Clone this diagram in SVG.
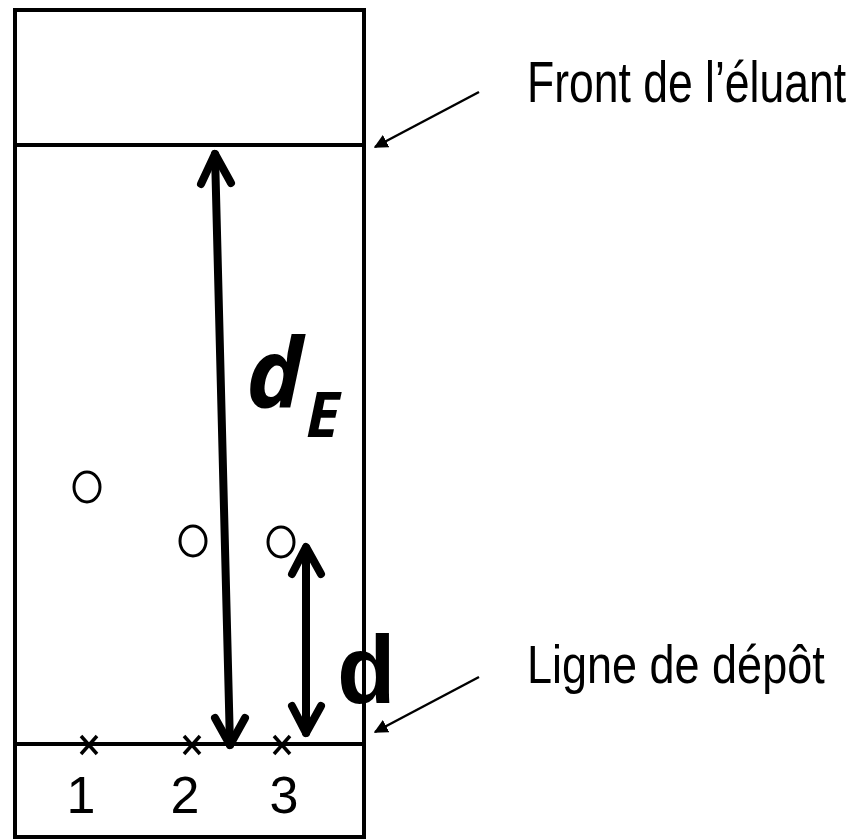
<svg xmlns="http://www.w3.org/2000/svg" width="856" height="840" viewBox="0 0 856 840">
<defs>
<style>
.frame{fill:none;stroke:#000;stroke-width:4}
.line{stroke:#000;stroke-width:4}
.spot{fill:none;stroke:#000;stroke-width:3}
.cross{stroke:#000;stroke-width:3.5}
.dim{fill:none;stroke:#000;stroke-width:8;stroke-linecap:round;stroke-linejoin:round}
.lead{stroke:#000;stroke-width:2.5}
.lbl{font-family:"Liberation Sans",Arial,sans-serif;fill:#000}
.num{font-family:"Liberation Sans",Arial,sans-serif;font-size:52px;fill:#000;text-anchor:middle}
.sym{font-family:"Open Sans","DejaVu Sans",sans-serif;font-weight:bold;font-style:italic;fill:#000}
</style>
<marker id="ah" viewBox="0 0 10 10" refX="9" refY="5" markerWidth="14" markerHeight="14" markerUnits="userSpaceOnUse" orient="auto">
<path d="M0,0 L10,5 L0,10 z" fill="#000"/>
</marker>
</defs>
<rect width="856" height="840" fill="#fff"/>
<g id="plate">
<rect class="frame" x="15" y="10" width="349" height="827"/>
<line id="front-line" class="line" x1="15" y1="145" x2="364" y2="145"/>
<line id="deposit-line" class="line" x1="15" y1="744" x2="364" y2="744"/>
</g>
<g id="spots">
<ellipse class="spot" cx="87" cy="487" rx="13" ry="15"/>
<ellipse class="spot" cx="193" cy="541" rx="13" ry="15"/>
<ellipse class="spot" cx="281" cy="542" rx="13" ry="15"/>
</g>
<g id="crosses">
<path class="cross" d="M81,736 L97,754 M97,736 L81,754"/>
<path class="cross" d="M184,736 L200,754 M200,736 L184,754"/>
<path class="cross" d="M274,736 L290,754 M290,736 L274,754"/>
</g>
<g id="numbers">
<text class="num" x="81" y="813">1</text>
<text class="num" x="185" y="813">2</text>
<text class="num" x="284" y="813">3</text>
</g>
<g id="connectors">
<line class="dim" x1="215" y1="154" x2="230" y2="745"/>
<path class="dim" d="M201,184 L215,154 L231,183"/>
<path class="dim" d="M215,718 L230,745 L245,718"/>
<line class="dim" x1="306" y1="548" x2="306" y2="733"/>
<path class="dim" d="M292,574 L306,547 L321,574"/>
<path class="dim" d="M292,706 L306,733 L321,706"/>
<line class="lead" x1="479" y1="92" x2="375" y2="147" marker-end="url(#ah)"/>
<line class="lead" x1="479" y1="677" x2="375" y2="732" marker-end="url(#ah)"/>
</g>
<g id="label-dE">
<text class="sym" x="246" y="408" font-size="96">d</text>
<text class="sym" x="306" y="437" font-size="62">E</text>
</g>
<g id="label-d">
<text class="lbl" x="337" y="703" font-size="96" font-weight="bold">d</text>
</g>
<g id="label-front">
<text class="lbl" transform="translate(527,102) scale(1,1.27)" x="0" y="0" font-size="44.5">Front de l’éluant</text>
</g>
<g id="label-ligne">
<text class="lbl" transform="translate(527,683) scale(1,1.2)" x="0" y="0" font-size="45">Ligne de dépôt</text>
</g>
</svg>
